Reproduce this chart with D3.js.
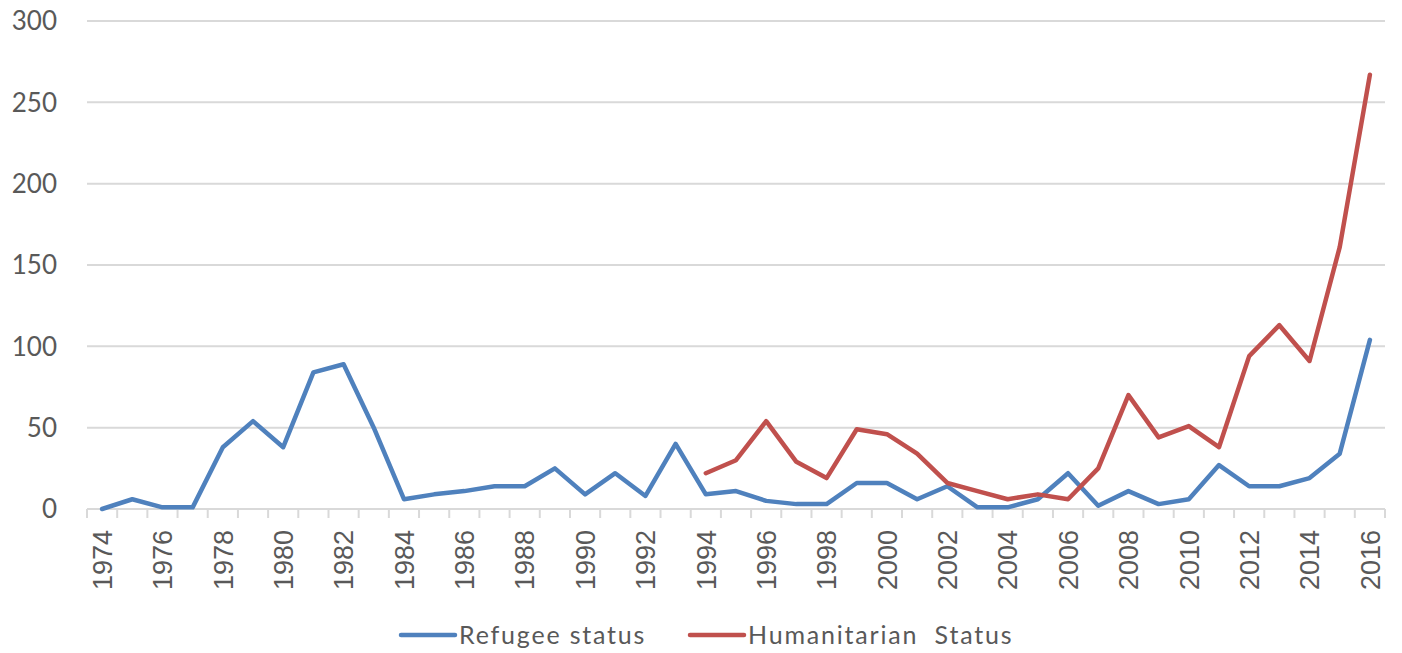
<!DOCTYPE html>
<head>
    <meta charset="utf-8">
    <title>Refugee and humanitarian status</title>
    <script src="https://d3js.org/d3.v7.min.js"></script>
    <style>
        body { margin: 0; background: #fff; }
        svg text { fill: #595959; }
    </style>
</head>
<body>
    <svg class="chart" width="1402" height="653"></svg>
    <script>
        // data
        var years = [1974,1975,1976,1977,1978,1979,1980,1981,1982,1983,1984,1985,1986,1987,1988,1989,1990,1991,1992,1993,1994,1995,1996,1997,1998,1999,2000,2001,2002,2003,2004,2005,2006,2007,2008,2009,2010,2011,2012,2013,2014,2015,2016];
        var refugee = [0,6,1,1,38,54,38,84,89,50,6,9,11,14,14,25,9,22,8,40,9,11,5,3,3,16,16,6,14,1,1,6,22,2,11,3,6,27,14,14,19,34,104];
        var humanitarian = [null,null,null,null,null,null,null,null,null,null,null,null,null,null,null,null,null,null,null,null,22,30,54,29,19,49,46,34,16,11,6,9,6,25,70,44,51,38,94,113,91,161,267];
        var yTicks = [0,50,100,150,200,250,300];
        var seriesNames = ["Refugee status", "Humanitarian  Status"];
        var colors = ["#4f81bd", "#c0504d"];

        var plotLeft = 87, plotRight = 1385, plotTop = 21, plotBottom = 509;
        var svg = d3.select("svg");

        var x = d3.scaleBand().domain(years).range([plotLeft, plotRight]);
        var y = d3.scaleLinear().domain([0, 300]).range([plotBottom, plotTop]);

        // gridlines
        svg.append("g").selectAll("line").data(yTicks.slice(1)).enter().append("line")
            .attr("x1", plotLeft).attr("x2", plotRight)
            .attr("y1", function(d){ return y(d); }).attr("y2", function(d){ return y(d); })
            .attr("stroke", "#d9d9d9").attr("stroke-width", 2);

        // y labels
        svg.append("g").selectAll("text").data(yTicks).enter().append("text")
            .attr("x", 57).attr("y", function(d){ return y(d); })
            .attr("dy", "0.36em").attr("text-anchor", "end")
            .style("font-family", "Lato, 'Open Sans', sans-serif").style("font-size", "26px")
            .text(function(d){ return d; });

        // x axis line and ticks between categories
        var xa = svg.append("g");
        xa.append("line").attr("x1", plotLeft).attr("x2", plotRight).attr("y1", plotBottom).attr("y2", plotBottom)
            .attr("stroke", "#d9d9d9").attr("stroke-width", 2);
        var edges = years.map(function(d){ return x(d); }).concat([plotRight]);
        xa.selectAll("line.tick").data(edges).enter().append("line").attr("class", "tick")
            .attr("x1", function(d){ return d; }).attr("x2", function(d){ return d; })
            .attr("y1", plotBottom).attr("y2", plotBottom + 9)
            .attr("stroke", "#d9d9d9").attr("stroke-width", 2);
        xa.selectAll("text").data(years.filter(function(d){ return d % 2 === 0; })).enter().append("text")
            .attr("transform", function(d){ return "translate(" + (x(d) + x.bandwidth()/2) + "," + 530 + ") rotate(-90)"; })
            .attr("dy", "0.36em").attr("text-anchor", "end")
            .style("font-family", "'Liberation Sans', Arial, sans-serif").style("font-size", "27px")
            .text(function(d){ return d; });

        // lines
        var line = d3.line()
            .defined(function(d){ return d.v !== null; })
            .x(function(d){ return x(d.year) + x.bandwidth()/2; })
            .y(function(d){ return y(d.v); });

        [refugee, humanitarian].forEach(function(vals, i){
            var pts = years.map(function(yr, j){ return {year: yr, v: vals[j]}; });
            svg.append("path").datum(pts)
                .attr("d", line)
                .attr("fill", "none")
                .attr("stroke", colors[i])
                .attr("stroke-width", 4.5)
                .attr("stroke-linejoin", "round")
                .attr("stroke-linecap", "round");
        });

        // legend
        var legendX = [401, 690];
        var lg = svg.append("g");
        seriesNames.forEach(function(name, i){
            lg.append("line").attr("x1", legendX[i]).attr("x2", legendX[i] + 54)
                .attr("y1", 635).attr("y2", 635)
                .attr("stroke", colors[i]).attr("stroke-width", 4.5).attr("stroke-linecap", "round");
            lg.append("text").attr("x", legendX[i] + 58).attr("y", 635).attr("dy", "0.36em")
                .attr("xml:space", "preserve")
                .style("white-space", "pre")
                .style("font-family", "Lato, 'Open Sans', sans-serif").style("font-size", "25px")
                .style("letter-spacing", "1.8px")
                .text(name);
        });
    </script>
</body>
